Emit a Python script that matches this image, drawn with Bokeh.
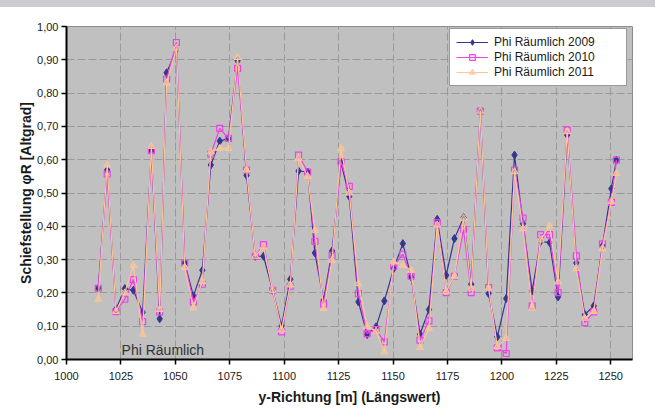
import numpy as np
from bokeh.plotting import figure
from bokeh.models import (Range1d, FixedTicker, CustomJSTickFormatter, Label,
                          Legend, LegendItem, Div)
from bokeh.layouts import column
from bokeh.embed import file_html
from bokeh.resources import INLINE

# ---- data ----
position_m = [1014.6, 1018.7, 1022.7, 1026.8, 1030.7, 1035.0, 1039.0, 1042.8, 1046.0, 1050.5,
              1054.3, 1058.3, 1062.4, 1066.3, 1070.4, 1074.4, 1078.6, 1082.7, 1086.7, 1090.5,
              1094.7, 1098.8, 1102.8, 1106.6, 1110.8, 1114.1, 1118.1, 1122.0, 1126.1, 1129.9,
              1134.1, 1138.1, 1142.2, 1146.0, 1150.3, 1154.5, 1158.3, 1162.4, 1166.5, 1170.3,
              1174.4, 1178.2, 1182.4, 1185.9, 1190.1, 1193.9, 1197.9, 1202.0, 1205.8, 1209.7,
              1213.9, 1217.8, 1221.9, 1225.8, 1230.0, 1234.2, 1238.1, 1242.2, 1246.2, 1250.3,
              1252.6]

phi_2009 = [0.214, 0.569, 0.150, 0.213, 0.208, 0.142, 0.627, 0.122, 0.861, 0.931,
            0.290, 0.191, 0.268, 0.584, 0.656, 0.664, 0.897, 0.553, 0.310, 0.310,
            0.208, 0.101, 0.241, 0.566, 0.563, 0.320, 0.178, 0.326, 0.591, 0.490,
            0.173, 0.075, 0.098, 0.176, 0.273, 0.348, 0.248, 0.076, 0.150, 0.421,
            0.253, 0.363, 0.426, 0.226, 0.746, 0.198, 0.068, 0.183, 0.614, 0.408,
            0.206, 0.355, 0.351, 0.188, 0.674, 0.290, 0.135, 0.161, 0.341, 0.513,
            0.599]

phi_2010 = [0.214, 0.557, 0.144, 0.181, 0.240, 0.114, 0.627, 0.143, 0.842, 0.952,
            0.290, 0.173, 0.226, 0.617, 0.694, 0.664, 0.874, 0.569, 0.310, 0.345,
            0.208, 0.083, 0.220, 0.614, 0.563, 0.355, 0.166, 0.313, 0.594, 0.520,
            0.198, 0.078, 0.090, 0.053, 0.280, 0.316, 0.250, 0.058, 0.116, 0.411,
            0.201, 0.250, 0.390, 0.201, 0.746, 0.216, 0.035, 0.018, 0.569, 0.425,
            0.161, 0.375, 0.375, 0.201, 0.689, 0.311, 0.111, 0.143, 0.347, 0.472,
            0.599]

phi_2011 = [0.181, 0.584, 0.144, 0.200, 0.283, 0.076, 0.640, 0.150, 0.831, 0.935,
            0.277, 0.155, 0.234, 0.624, 0.634, 0.634, 0.907, 0.569, 0.310, 0.338,
            0.208, 0.089, 0.224, 0.604, 0.550, 0.388, 0.153, 0.298, 0.634, 0.500,
            0.228, 0.100, 0.085, 0.023, 0.293, 0.283, 0.268, 0.036, 0.093, 0.404,
            0.204, 0.250, 0.424, 0.214, 0.746, 0.214, 0.039, 0.063, 0.564, 0.393,
            0.154, 0.359, 0.401, 0.233, 0.684, 0.273, 0.124, 0.144, 0.333, 0.474,
            0.559]

series_labels = ["Phi Räumlich 2009", "Phi Räumlich 2010", "Phi Räumlich 2011"]
x_ticks = [1000, 1025, 1050, 1075, 1100, 1125, 1150, 1175, 1200, 1225, 1250]
y_ticks = [0.0, 0.1, 0.2, 0.3, 0.4, 0.5, 0.6, 0.7, 0.8, 0.9, 1.0]

FONT = "Liberation Sans"

p = figure(width=655, height=412, output_backend="svg", toolbar_location=None,
           x_range=Range1d(1000, 1260), y_range=Range1d(0, 1.0),
           min_border_left=66, min_border_right=23, min_border_top=19,
           min_border_bottom=60, margin=0)

p.background_fill_color = "#c0c0c0"
p.border_fill_color = "white"
p.outline_line_color = "#8c8c8c"
p.outline_line_width = 1

# grid
p.xgrid.ticker = FixedTicker(ticks=x_ticks)
p.ygrid.ticker = FixedTicker(ticks=y_ticks)
for g in (p.xgrid, p.ygrid):
    g.grid_line_color = "#999999"
    g.grid_line_dash = "8 3"
    g.grid_line_width = 1

# axes
p.xaxis.ticker = FixedTicker(ticks=x_ticks)
p.yaxis.ticker = FixedTicker(ticks=y_ticks)
p.yaxis.formatter = CustomJSTickFormatter(code="return tick.toFixed(2).replace('.', ',');")
for ax in (p.xaxis, p.yaxis):
    ax.axis_line_color = "black"
    ax.axis_line_width = 2
    ax.major_tick_line_color = "black"
    ax.major_tick_line_width = 1.5
    ax.major_tick_out = 5
    ax.major_tick_in = 0
    ax.minor_tick_line_color = None
    ax.major_label_text_font = FONT
    ax.major_label_text_font_size = "11px"
    ax.major_label_text_color = "#1a1a1a"
    ax.axis_label_text_font = FONT
    ax.axis_label_text_font_size = "14px"
    ax.axis_label_text_font_style = "bold"
    ax.axis_label_text_color = "#1a1a1a"
p.yaxis.major_label_standoff = 3
p.xaxis.major_label_standoff = 7

p.xaxis.axis_label = "y-Richtung [m] (Längswert)"
p.xaxis.axis_label_standoff = 6
p.yaxis.axis_label = "Schiefstellung φR [Altgrad]"
p.yaxis.axis_label_standoff = 0

# series
c09, c10, c11 = "#363690", "#f23ee6", "#fbc69a"
l1 = p.line(position_m, phi_2009, line_color=c09, line_width=1.2)
s1 = p.scatter(position_m, phi_2009, marker="diamond", size=8,
               line_color=c09, fill_color=c09, line_width=1)
l2 = p.line(position_m, phi_2010, line_color=c10, line_width=1.2)
s2 = p.scatter(position_m, phi_2010, marker="square", size=6,
               line_color=c10, fill_color=None, line_width=1.2)
l3 = p.line(position_m, phi_2011, line_color=c11, line_width=1.2)
s3 = p.scatter(position_m, phi_2011, marker="triangle", size=7,
               line_color=c11, fill_color=c11, fill_alpha=0.6, line_width=1)

legend = Legend(items=[LegendItem(label=series_labels[0], renderers=[l1, s1]),
                       LegendItem(label=series_labels[1], renderers=[l2, s2]),
                       LegendItem(label=series_labels[2], renderers=[l3, s3])],
                location=(383, 273))
legend.padding = 6
legend.margin = 0
legend.spacing = 1
legend.glyph_width = 32
legend.glyph_height = 14
legend.label_height = 14
legend.label_width = 126
legend.label_standoff = 6
legend.label_text_font = FONT
legend.label_text_font_size = "12px"
legend.label_text_color = "#1a1a1a"
legend.border_line_color = "#333333"
legend.border_line_width = 1.5
legend.background_fill_color = "white"
legend.background_fill_alpha = 1.0
p.add_layout(legend)

# text inside plot
p.add_layout(Label(x=1025.3, y=0.03, text="Phi Räumlich", text_font=FONT,
                   text_font_size="14px", text_color="#333333",
                   text_baseline="alphabetic"))

band = Div(text="", width=655, height=7, margin=0,
           styles={"background-color": "#c9ccd0"})
layout = column(band, p, spacing=0, margin=0)
open("out.html", "w").write(file_html(layout, INLINE))
